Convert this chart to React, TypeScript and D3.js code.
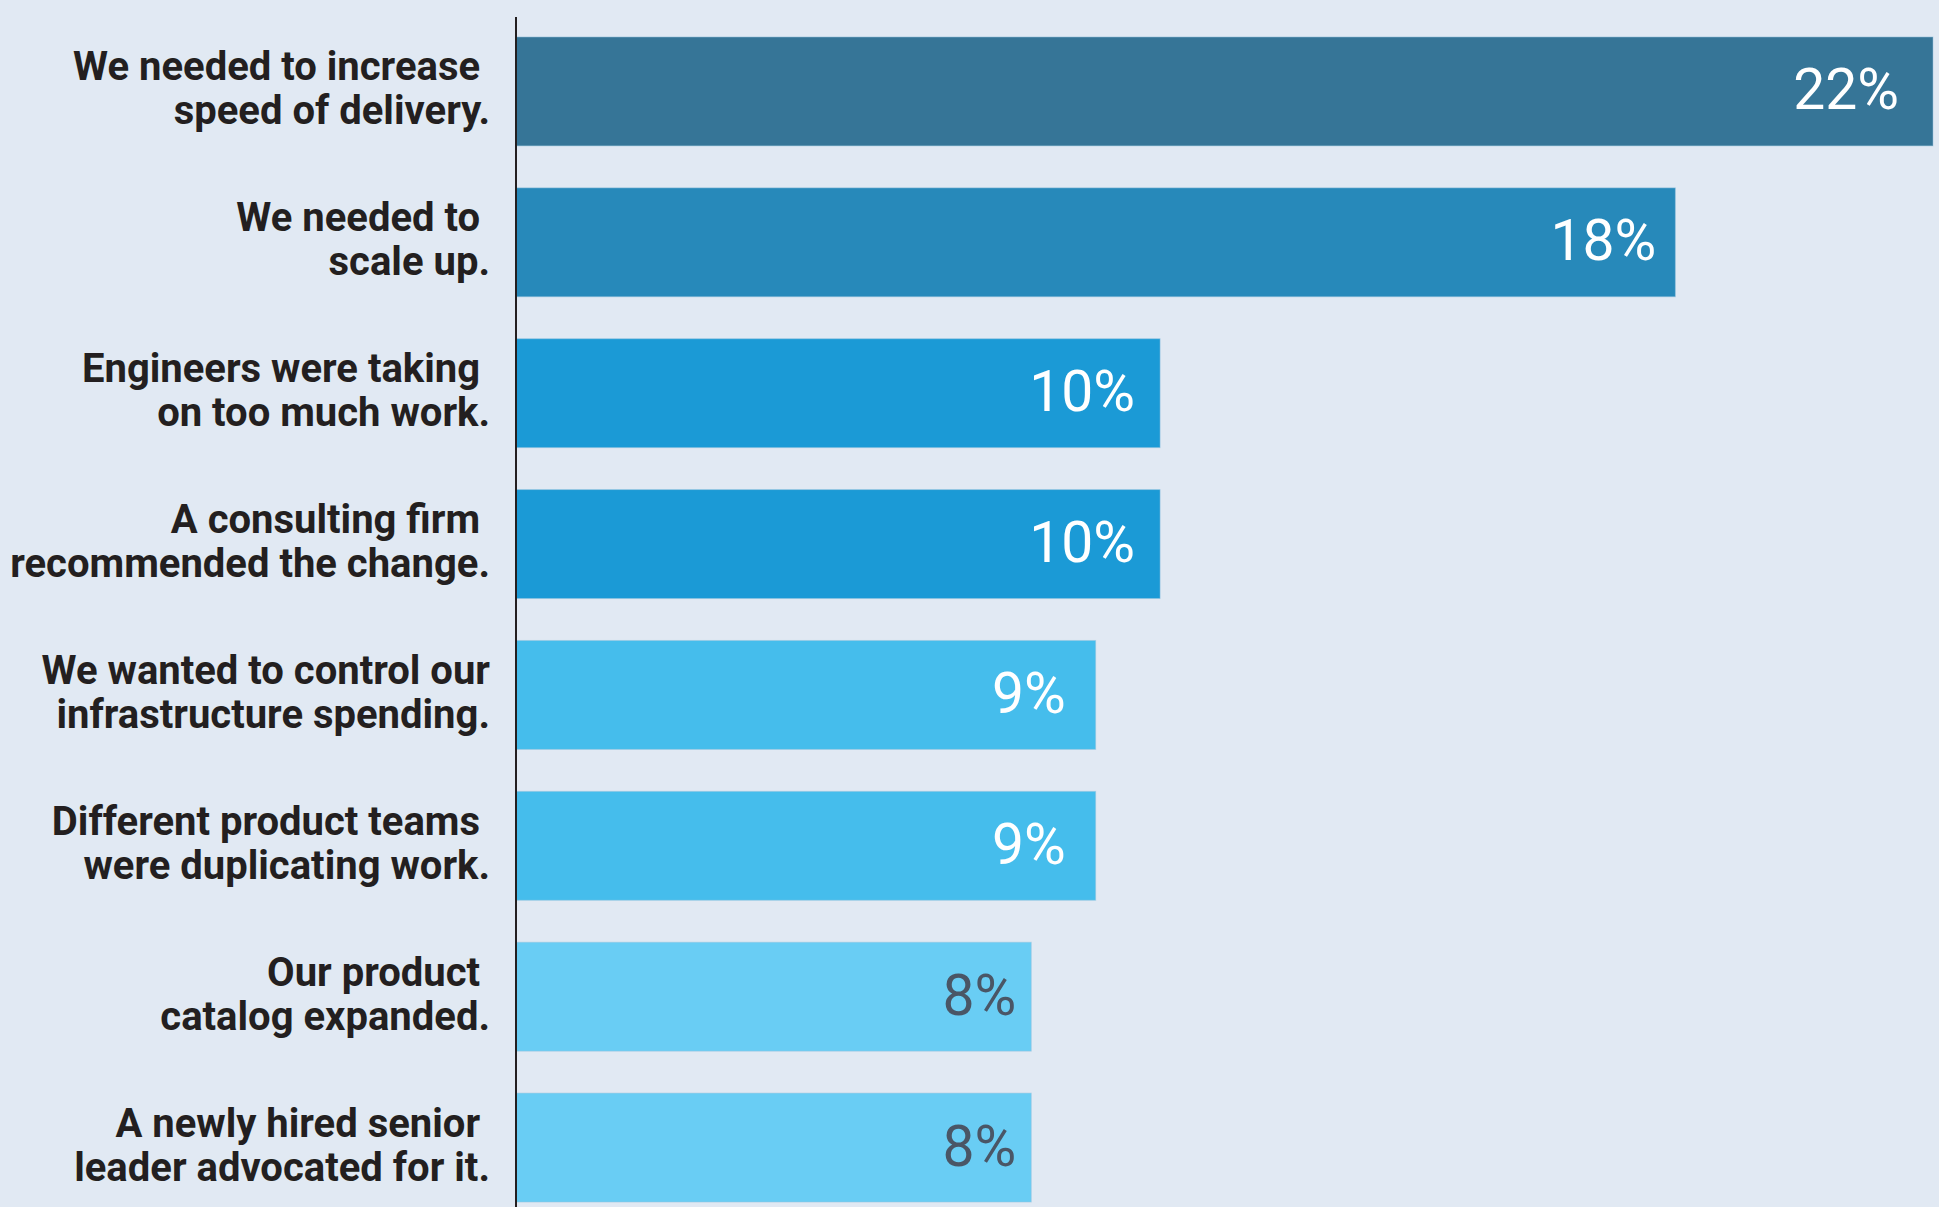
import React from "react";
import * as d3 from "d3";

const categories: string[][] = [
  ["We needed to increase ", "speed of delivery."],
  ["We needed to ", "scale up."],
  ["Engineers were taking ", "on too much work."],
  ["A consulting firm ", "recommended the change."],
  ["We wanted to control our", "infrastructure spending."],
  ["Different product teams ", "were duplicating work."],
  ["Our product ", "catalog expanded."],
  ["A newly hired senior ", "leader advocated for it."],
];
const values: number[] = [22, 18, 10, 10, 9, 9, 8, 8];
const barColors: string[] = ["#367597", "#2789BA", "#1B9AD6", "#1B9AD6", "#45BDEC", "#45BDEC", "#69CDF4", "#69CDF4"];
const valueColors: string[] = ["#ffffff", "#ffffff", "#ffffff", "#ffffff", "#ffffff", "#ffffff", "#4A5666", "#4A5666"];
// inset of each value label from the bar end (style)
const labelInset: number[] = [34, 19, 25, 25, 30, 30, 15, 15];

const W = 1939;
const H = 1207;
const axisX = 516;

export default function App() {
  const x = d3.scaleLinear().domain([0, 22]).range([axisX, 1933]);
  const y = d3
    .scaleBand<number>()
    .domain(d3.range(values.length))
    .range([16, 1223])
    .paddingInner(0.278)
    .paddingOuter(0.139);
  const bw = y.bandwidth();

  return (
    <svg
      width={W}
      height={H}
      style={{ position: "absolute", left: 0, top: 0, display: "block" }}
    >
      <rect x={0} y={0} width={W} height={H} fill="#E1E9F3" />
      {values.map((v, i) => {
        const y0 = y(i)!;
        const cy = y0 + bw / 2;
        return (
          <g key={i}>
            <rect
              x={x(0)}
              y={y0}
              width={x(v) - x(0)}
              height={bw}
              fill={barColors[i]}
              stroke="#9cc6e0"
              strokeWidth={1}
              strokeOpacity={0.5}
            />
            <text
              x={x(v) - labelInset[i]}
              y={cy + 18}
              textAnchor="end"
              fill={valueColors[i]}
              style={{ fontFamily: "Roboto", fontSize: 57, fontWeight: 400 }}
            >
              {v}%
            </text>
            <text
              textAnchor="end"
              fill="#231F20"
              style={{
                fontFamily: "Roboto",
                fontSize: 40,
                fontWeight: 700,
                whiteSpace: "pre",
              }}
            >
              <tspan x={490} y={cy - 11}>
                {categories[i][0]}
              </tspan>
              <tspan x={490} y={cy + 33}>
                {categories[i][1]}
              </tspan>
            </text>
          </g>
        );
      })}
      <line x1={axisX} x2={axisX} y1={17} y2={H} stroke="#231F20" strokeWidth={2} />
    </svg>
  );
}
